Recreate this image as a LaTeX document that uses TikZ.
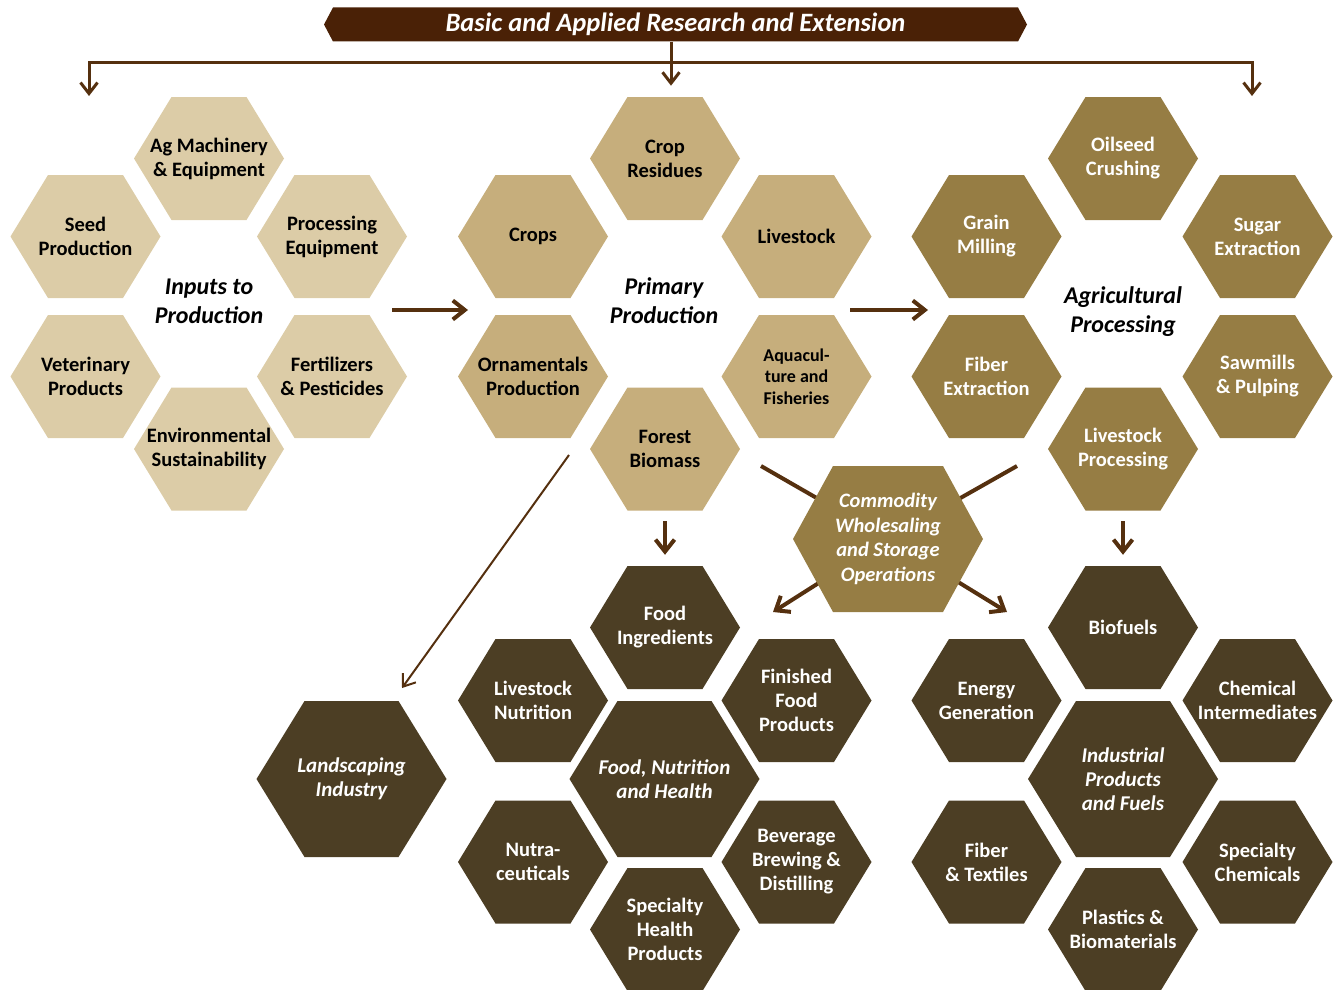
\documentclass[tikz,border=0pt]{standalone}
\usepackage{fontspec}
\setmainfont{Carlito}
\usetikzlibrary{arrows.meta,calc,backgrounds}

\definecolor{bannerbrown}{HTML}{4A2106}
\definecolor{linkbrown}{HTML}{55300F}
\definecolor{inputtan}{HTML}{DCCCA7}
\definecolor{primtan}{HTML}{C6AE7C}
\definecolor{procolive}{HTML}{967D44}
\definecolor{outbrown}{HTML}{4C3E24}

\begin{document}
\begin{tikzpicture}[x=1pt,y=-1pt,
  hexcell/.style 2 args={inner sep=0pt,align=center,font=\bfseries\fontsize{20.5}{24}\selectfont,
    path picture={\fill[#1] (path picture bounding box.west)
      -- ([xshift=#2]path picture bounding box.north west)
      -- ([xshift=-#2]path picture bounding box.north east)
      -- (path picture bounding box.east)
      -- ([xshift=-#2]path picture bounding box.south east)
      -- ([xshift=#2]path picture bounding box.south west) -- cycle;}},
  small/.style={hexcell={#1}{37.5pt},minimum width=150pt,minimum height=123pt},
  large/.style={hexcell={#1}{48pt},minimum width=190pt,minimum height=156pt,
    text=white,font=\bfseries\itshape\fontsize{21}{24}\selectfont},
  hublabel/.style={align=center,font=\bfseries\itshape\fontsize{24}{29}\selectfont},
  link/.style={draw=linkbrown,line width=3pt},
  toparr/.style={link,-{Straight Barb[length=11pt,width=17pt]}},
  bigarr/.style={draw=linkbrown,line width=4pt,-{Straight Barb[length=12pt,width=19pt]}},
  thinarr/.style={draw=linkbrown,line width=2pt,-{Straight Barb[length=11pt,width=16pt]}}]

  \useasboundingbox (0,0) rectangle (1338,990);

  \node[hexcell={bannerbrown}{9pt},minimum width=703pt,minimum height=34pt,text=white,
    font=\bfseries\itshape\fontsize{26.5}{28}\selectfont] (banner) at (675.5,24.5)
    {Basic and Applied Research and Extension};

  \foreach \n/\x/\y/\t in {agmach/209/158.5/{Ag Machinery\\\& Equipment},
      seed/85.5/236.5/{Seed\\Production}, proceq/332/236.5/{Processing\\Equipment},
      vet/85.5/376.5/{Veterinary\\Products}, fert/332/376.5/{Fertilizers\\\& Pesticides},
      envsus/209/449/{Environmental\\Sustainability}}
    \node[small=inputtan] (\n) at (\x,\y) {\t};

  \foreach \n/\x/\y/\t in {cropres/665/158.5/{Crop\\Residues}, crops/533/236.5/{Crops},
      livest/796.5/236.5/{Livestock}, ornam/533/376.5/{Ornamentals\\Production},
      forest/665/449/{Forest\\Biomass}}
    \node[small=primtan] (\n) at (\x,\y) {\t};
  \node[small=primtan,font=\bfseries\fontsize{18}{21.5}\selectfont] (aqua) at (796.5,376.5)
    {Aquacul-\\ture and\\Fisheries};

  \foreach \n/\x/\y/\t in {oilseed/1123/158.5/{Oilseed\\Crushing}, grain/986.5/236.5/{Grain\\Milling},
      sugar/1257.5/236.5/{Sugar\\Extraction}, fiberex/986.5/376.5/{Fiber\\Extraction},
      sawmill/1257.5/376.5/{Sawmills\\\& Pulping}, lsproc/1123/449/{Livestock\\Processing}}
    \node[small=procolive,text=white] (\n) at (\x,\y) {\t};

  \foreach \n/\x/\y/\t in {foodingr/665/627.5/{Food\\Ingredients}, lsnut/533/700.5/{Livestock\\Nutrition},
      finfood/796.5/700.5/{Finished\\Food\\Products}, nutra/533/862/{Nutra-\\ceuticals},
      bevbrew/796.5/862/{Beverage\\Brewing \&\\Distilling}, spechealth/665/929.5/{Specialty\\Health\\Products},
      biofuel/1123/627.5/{Biofuels}, energy/986.5/700.5/{Energy\\Generation},
      chemint/1257.5/700.5/{Chemical\\Intermediates}, fibtex/986.5/862/{Fiber\\\& Textiles},
      specchem/1257.5/862/{Specialty\\Chemicals}, plastic/1123/929.5/{Plastics \&\\Biomaterials}}
    \node[small=outbrown,text=white] (\n) at (\x,\y) {\t};

  \node[large=outbrown] (foodhealth) at (664.5,779) {Food, Nutrition\\and Health};
  \node[large=outbrown] (indprod) at (1123,779) {Industrial\\Products\\and Fuels};
  \node[large=outbrown] (landsc) at (351.5,779) {Landscaping\\Industry};
  \node[hexcell={procolive}{40pt},minimum width=190pt,minimum height=146pt,text=white,
    font=\bfseries\itshape\fontsize{20.5}{24.5}\selectfont] (commod) at (888,539)
    {Commodity\\Wholesaling\\and Storage\\Operations};

  \node[hublabel] (inputs) at (209,301) {Inputs to\\Production};
  \node[hublabel] (primary) at (664,301) {Primary\\Production};
  \node[hublabel] (agproc) at (1123,312) {Agricultural\\Processing};

  \coordinate (dropL) at (89,96);
  \coordinate (topL) at (89,63);
  \coordinate (topR) at (1252,63);
  \coordinate (dropR) at (1252,96);
  \coordinate (inA) at (392,310);
  \coordinate (inB) at (468,310);
  \coordinate (primA) at (850,310);
  \coordinate (primB) at (928,310);
  \coordinate (woodA) at (569,455);
  \coordinate (woodB) at (402,688);
  \coordinate (commA) at (761,466);
  \coordinate (commB) at (1017,466);
  \coordinate (commC) at (773,612);
  \coordinate (commD) at (1007,612);

  \draw[toparr] ([xshift=-4.5pt]banner.south) -- ++(0,44);
  \draw[link,{Straight Barb[length=11pt,width=17pt]}-{Straight Barb[length=11pt,width=17pt]}]
    (dropL) -- (topL) -- (topR) -- (dropR);
  \draw[bigarr] (inA) -- (inB);
  \draw[bigarr] (primA) -- (primB);
  \draw[bigarr,shorten <=10.5pt,shorten >=11pt] (forest) -- (foodingr);
  \draw[bigarr,shorten <=10.5pt,shorten >=11pt] (lsproc) -- (biofuel);
  \draw[thinarr] (woodA) -- (woodB);

  \begin{scope}[on background layer]
    \draw[link,line width=4pt] (commA) -- (commod.center);
    \draw[link,line width=4pt] (commB) -- (commod.center);
    \draw[bigarr] (commod.center) -- (commC);
    \draw[bigarr] (commod.center) -- (commD);
  \end{scope}

\end{tikzpicture}
\end{document}
